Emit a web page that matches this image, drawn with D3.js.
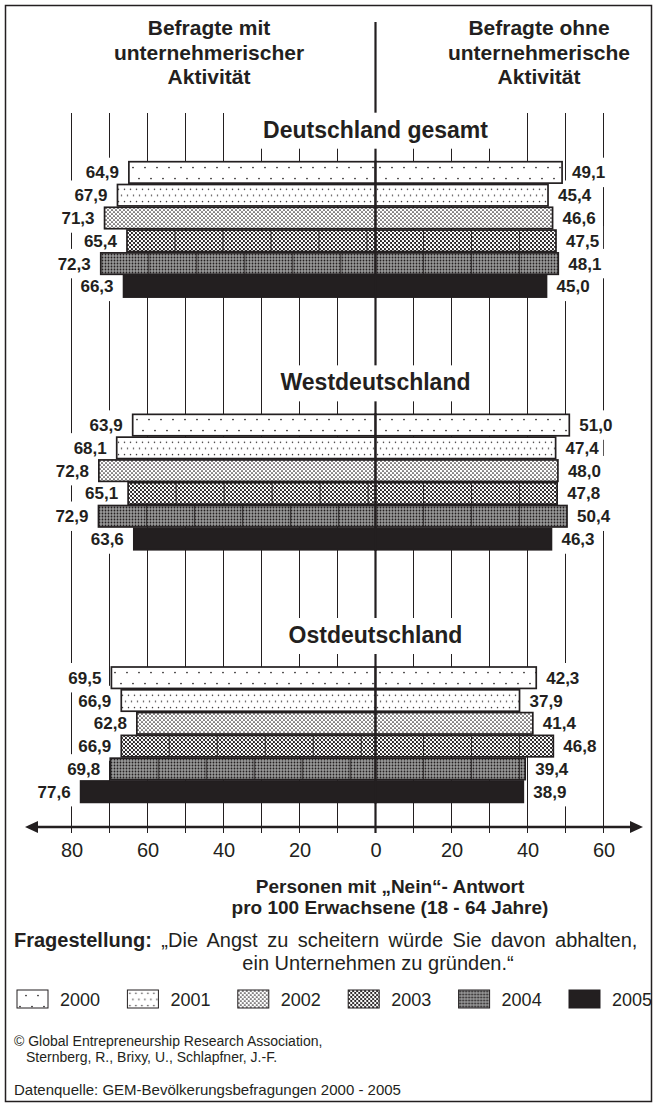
<!DOCTYPE html>
<html><head><meta charset="utf-8">
<script src="https://cdn.jsdelivr.net/npm/d3@7"></script>
<style>body{margin:0;background:#fff}svg{display:block;font-family:"Liberation Sans",Arial,sans-serif}</style>
</head><body><svg id="c" width="657" height="1106"></svg>
<script>
// ---- data ----
const regions = ["Deutschland gesamt", "Westdeutschland", "Ostdeutschland"];
const years = ["2000", "2001", "2002", "2003", "2004", "2005"];
const mitDeutschland = [64.9, 67.9, 71.3, 65.4, 72.3, 66.3];
const mitWest = [63.9, 68.1, 72.8, 65.1, 72.9, 63.6];
const mitOst = [69.5, 66.9, 62.8, 66.9, 69.8, 77.6];
const ohneDeutschland = [49.1, 45.4, 46.6, 47.5, 48.1, 45.0];
const ohneWest = [51.0, 47.4, 48.0, 47.8, 50.4, 46.3];
const ohneOst = [42.3, 37.9, 41.4, 46.8, 39.4, 38.9];
const axisTicks = [-80, -60, -40, -20, 0, 20, 40, 60];
const headerLeft = ["Befragte mit", "unternehmerischer", "Aktivität"];
const headerRight = ["Befragte ohne", "unternehmerische", "Aktivität"];
const axisTitle = ["Personen mit \u201eNein\u201c- Antwort", "pro 100 Erwachsene (18 - 64 Jahre)"];

const ink = "#231f20";
const svg = d3.select("#c");
const defs = svg.append("defs");

const x = d3.scaleLinear().domain([-80, 60]).range([71.5, 603.5]);
const x0 = x(0);
const ySec = d3.scalePoint().domain(regions).range([161.7, 667]);
const yYear = d3.scaleBand().domain(years).range([0, 135.4]).paddingInner(0.06);
const bh = yYear.bandwidth();
const axisY = 827;
const fmt = v => d3.format(".1f")(v).replace(".", ",");

const mit = [mitDeutschland, mitWest, mitOst];
const ohne = [ohneDeutschland, ohneWest, ohneOst];
const bars = [];
regions.forEach((r, ri) => years.forEach((yr, yi) => {
  const top = ySec(r) + yYear(yr);
  bars.push({ri, yi, side: "mit", v: mit[ri][yi], x1: x(-mit[ri][yi]), x2: x0, y: top});
  bars.push({ri, yi, side: "ohne", v: ohne[ri][yi], x1: x0, x2: x(ohne[ri][yi]), y: top});
}));

function makePattern(id, yi, ox, oy) {
  const p = defs.append("pattern").attr("id", id).attr("patternUnits", "userSpaceOnUse")
    .attr("x", Math.round(ox)).attr("y", Math.round(oy));
  const dot = (cx, cy, r, f) => p.append("circle").attr("cx", cx).attr("cy", cy).attr("r", r).attr("fill", f);
  const bg = (w, h, f) => { p.attr("width", w).attr("height", h); p.append("rect").attr("width", w).attr("height", h).attr("fill", f); };
  if (yi === 0) { bg(12, 22, "#fff"); dot(4, 5.5, 0.85, ink); dot(10, 16.5, 0.85, ink); }
  else if (yi === 1) { bg(6, 12.4, "#fff"); dot(1.5, 5.3, 0.75, ink); dot(4.5, 11.5, 0.75, ink); }
  else if (yi === 2) { bg(4, 4, "#fff"); dot(1, 1, 0.85, ink); dot(3, 3, 0.85, ink); }
  else if (yi === 3) { bg(4, 4, ink); dot(1, 1, 1.22, "#fff"); dot(3, 3, 1.22, "#fff"); }
  else if (yi === 4) { bg(3, 3, "#999"); dot(1.5, 1.5, 0.9, ink); }
  return `url(#${id})`;
}
const fillFor = (d, i) => d.yi === 5 ? ink : makePattern("pb" + i, d.yi, d.x1, d.y);

// frame
svg.append("rect").attr("x", 5.5).attr("y", 5.5).attr("width", 646).attr("height", 1096)
  .attr("fill", "none").attr("stroke", ink).attr("stroke-width", 1.5);

// grid
const gGrid = svg.append("g");
gGrid.selectAll("line").data(d3.range(-80, 61, 10).filter(d => d !== 0)).join("line")
  .attr("x1", d => x(d)).attr("x2", d => x(d)).attr("y1", 113).attr("y2", 833)
  .attr("stroke", ink).attr("stroke-width", 1);
gGrid.append("line").attr("x1", x0).attr("x2", x0).attr("y1", 22).attr("y2", 833)
  .attr("stroke", ink).attr("stroke-width", 2.2);

// header
[[headerLeft, 209], [headerRight, 539]].forEach(([lines, cx]) => {
  svg.append("g").selectAll("text").data(lines).join("text")
    .attr("x", cx).attr("y", (d, i) => 35 + i * 24.5).attr("text-anchor", "middle")
    .attr("font-size", 21).attr("font-weight", "bold").attr("fill", ink).text(d => d);
});

// section titles with white boxes
const gTitleBox = svg.append("g");
const gTitle = svg.append("g");
regions.forEach(r => {
  const base = ySec(r) - 24;
  const t = gTitle.append("text").attr("x", x0).attr("y", base).attr("text-anchor", "middle")
    .attr("font-size", 23).attr("font-weight", "bold").attr("fill", ink).text(r);
  const bb = t.node().getBBox();
  gTitleBox.append("rect").attr("x", bb.x - 16).attr("y", base - 25).attr("width", bb.width + 32)
    .attr("height", 36).attr("fill", "#fff");
});

const gLabelBox = svg.append("g");
const gBars = svg.append("g");
const gSeams = svg.append("g");
const gCenter = svg.append("g");
const gLabels = svg.append("g");

gBars.selectAll("rect").data(bars).join("rect")
  .attr("x", d => d.x1).attr("y", d => d.y).attr("width", d => d.x2 - d.x1).attr("height", bh)
  .attr("fill", fillFor).attr("stroke", ink).attr("stroke-width", 1.7);

// tile seams visible in 2003/2004 bars
const seams = [];
bars.filter(d => d.yi === 3 || d.yi === 4).forEach(d => {
  for (let sx = d.x1 + 48; sx < d.x2 - 2; sx += 48) seams.push({sx, y: d.y});
});
gSeams.selectAll("line").data(seams).join("line")
  .attr("x1", d => d.sx).attr("x2", d => d.sx).attr("y1", d => d.y).attr("y2", d => d.y + bh)
  .attr("stroke", ink).attr("stroke-width", 0.8);

regions.forEach(r => {
  gCenter.append("line").attr("x1", x0).attr("x2", x0)
    .attr("y1", ySec(r) - 1).attr("y2", ySec(r) + yYear("2005") + bh + 1)
    .attr("stroke", ink).attr("stroke-width", 2.2);
});

// value labels
gLabels.selectAll("text").data(bars).join("text")
  .attr("x", d => d.side === "mit" ? d.x1 - 10 : d.x2 + 10)
  .attr("y", d => d.y + bh / 2 + 6)
  .attr("text-anchor", d => d.side === "mit" ? "end" : "start")
  .attr("font-size", 17).attr("font-weight", "bold").attr("fill", ink)
  .text(d => fmt(d.v))
  .each(function(d) {
    const bb = this.getBBox();
    gLabelBox.append("rect").attr("x", bb.x - 4).attr("y", d.y - 4)
      .attr("width", bb.width + 8).attr("height", bh + 8).attr("fill", "#fff");
  });

// axis
svg.append("line").attr("x1", 36).attr("x2", 632).attr("y1", axisY).attr("y2", axisY)
  .attr("stroke", ink).attr("stroke-width", 2.5);
svg.append("path").attr("d", `M25,${axisY}L38,${axisY - 6}L38,${axisY + 6}Z`).attr("fill", ink);
svg.append("path").attr("d", `M643,${axisY}L630,${axisY - 6}L630,${axisY + 6}Z`).attr("fill", ink);
const ax = svg.append("g").attr("transform", `translate(0,${axisY})`)
  .call(d3.axisBottom(x).tickValues(axisTicks).tickFormat(d => Math.abs(d)).tickSize(0).tickPadding(16));
ax.select(".domain").remove();
ax.attr("font-family", null).attr("font-size", null);
ax.selectAll("text").attr("font-size", 20).attr("fill", ink);

svg.append("g").selectAll("text").data(axisTitle).join("text")
  .attr("x", 390).attr("y", (d, i) => 893 + i * 20.5).attr("text-anchor", "middle")
  .attr("font-size", 19).attr("font-weight", "bold").attr("fill", ink).text(d => d);

// question
const q = svg.append("text").attr("x", 14).attr("y", 947).attr("font-size", 20)
  .attr("word-spacing", 4).attr("fill", ink);
q.append("tspan").attr("font-weight", "bold").text("Fragestellung:");
q.append("tspan").text(" \u201eDie Angst zu scheitern würde Sie davon abhalten,");
svg.append("text").attr("x", 378).attr("y", 970).attr("text-anchor", "middle").attr("font-size", 20)
  .attr("fill", ink).text("ein Unternehmen zu gründen.\u201c");

// legend
const lg = svg.append("g").selectAll("g").data(years).join("g")
  .attr("transform", (d, i) => `translate(${17 + i * 110.4},990)`);
lg.append("rect").attr("width", 31).attr("height", 18).attr("stroke", ink).attr("stroke-width", 1)
  .attr("fill", (d, i) => i === 5 ? ink : makePattern("pl" + i, i, 17 + i * 110.4, 990));
lg.append("text").attr("x", 43).attr("y", 16).attr("font-size", 18).attr("fill", ink).text(d => d);

// footer
svg.append("text").attr("x", 14).attr("y", 1046).attr("font-size", 14).attr("fill", ink)
  .text("© Global Entrepreneurship Research Association,");
svg.append("text").attr("x", 26).attr("y", 1062).attr("font-size", 14).attr("fill", ink)
  .text("Sternberg, R., Brixy, U., Schlapfner, J.-F.");
svg.append("text").attr("x", 14).attr("y", 1095).attr("font-size", 15).attr("fill", ink)
  .text("Datenquelle: GEM-Bevölkerungsbefragungen 2000 - 2005");
</script></body></html>
